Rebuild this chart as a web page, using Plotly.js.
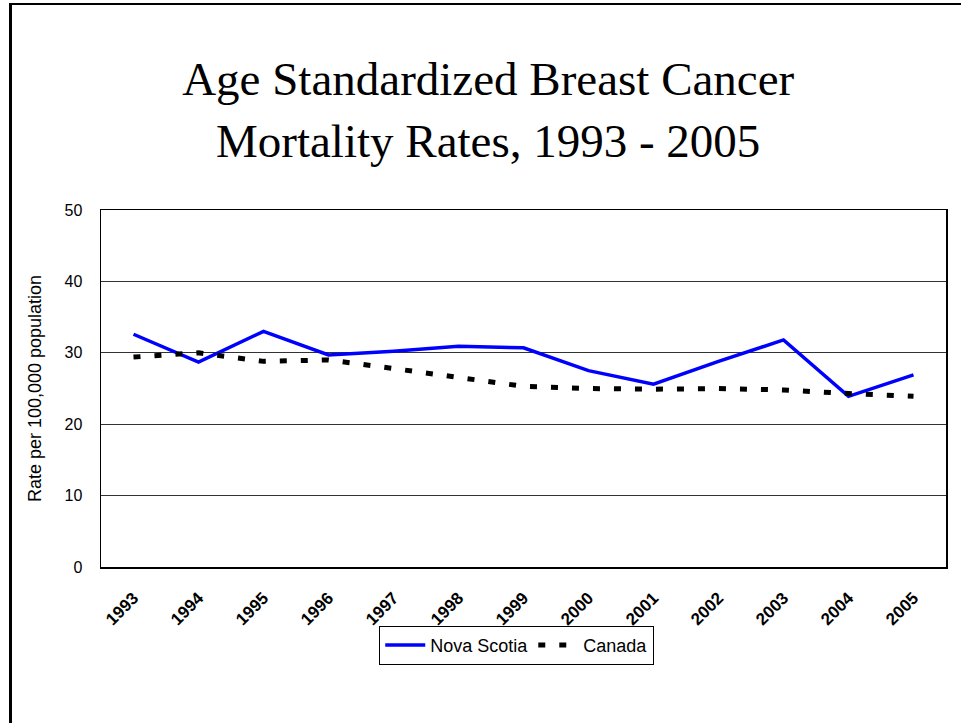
<!DOCTYPE html>
<html>
<head>
<meta charset="utf-8">
<script src="https://cdn.plot.ly/plotly-3.0.1.min.js"></script>
<style>
  html, body { margin: 0; padding: 0; background: #fff; }
  #wrap { position: relative; width: 961px; height: 723px; overflow: hidden; }
  #chart { width: 961px; height: 723px; }
  #frame { position: absolute; left: 9px; top: 3px; width: 1000px; height: 1000px;
           border-left: 3px solid #000; border-top: 2px solid #000; pointer-events: none; }
</style>
</head>
<body>
<div id="wrap">
  <div id="chart"></div>
  <div id="frame"></div>
</div>
<script>
const years = ['1993','1994','1995','1996','1997','1998','1999','2000','2001','2002','2003','2004','2005'];
const novaScotia = [32.6, 28.7, 33.0, 29.7, 30.2, 30.9, 30.7, 27.5, 25.6, 28.8, 31.8, 23.9, 26.9];
const canada = [29.4, 30.0, 28.8, 29.0, 27.8, 26.6, 25.3, 25.0, 24.9, 25.0, 24.8, 24.3, 23.9];

const traces = [
  { x: years, y: novaScotia, name: 'Nova Scotia', type: 'scatter', mode: 'lines',
    line: { color: '#0000ff', width: 3.5 } },
  { x: years, y: canada, name: 'Canada', type: 'scatter', mode: 'lines',
    line: { color: '#000000', width: 5, dash: '7px,14px' } }
];

const layout = {
  width: 961, height: 723,
  margin: { l: 101, r: 15, t: 210, b: 156 },
  paper_bgcolor: '#ffffff', plot_bgcolor: '#ffffff',
  showlegend: true,
  title: {
    text: 'Age Standardized Breast Cancer<br>Mortality Rates, 1993 - 2005',
    font: { family: '"Liberation Serif", "Times New Roman", serif', size: 47, color: '#000' },
    x: 0.508, xanchor: 'center', y: 0.868, yanchor: 'middle'
  },
  xaxis: {
    type: 'category',
    range: [-0.5, 12.5],
    tickangle: -45,
    tickfont: { family: '"Liberation Sans", Arial, sans-serif', size: 17, color: '#000', weight: 'bold' },
    showgrid: false, zeroline: false,
    showline: true, linecolor: '#000', linewidth: 1.5, mirror: true,
    ticks: 'outside', ticklen: 13, tickcolor: 'rgba(0,0,0,0)', automargin: false
  },
  yaxis: {
    range: [0, 50], dtick: 10,
    tickfont: { family: '"Liberation Sans", Arial, sans-serif', size: 16, color: '#000' },
    showgrid: true, gridcolor: '#333', gridwidth: 1, zeroline: false,
    showline: true, linecolor: '#000', linewidth: 1.5, mirror: true,
    ticks: 'outside', ticklen: 14, tickcolor: 'rgba(0,0,0,0)',
    title: { text: 'Rate per 100,000 population', standoff: 18,
             font: { family: '"Liberation Sans", Arial, sans-serif', size: 18, color: '#000' } },
    automargin: false
  },
  legend: {
    orientation: 'h', x: 0.492, xanchor: 'center', y: -0.165, yanchor: 'top',
    bordercolor: '#000', borderwidth: 1, bgcolor: '#fff',
    font: { family: '"Liberation Sans", Arial, sans-serif', size: 18, color: '#000' },
    itemwidth: 40, tracegroupgap: 0
  }
};

Plotly.newPlot('chart', traces, layout, { displayModeBar: false, staticPlot: true });
</script>
</body>
</html>
